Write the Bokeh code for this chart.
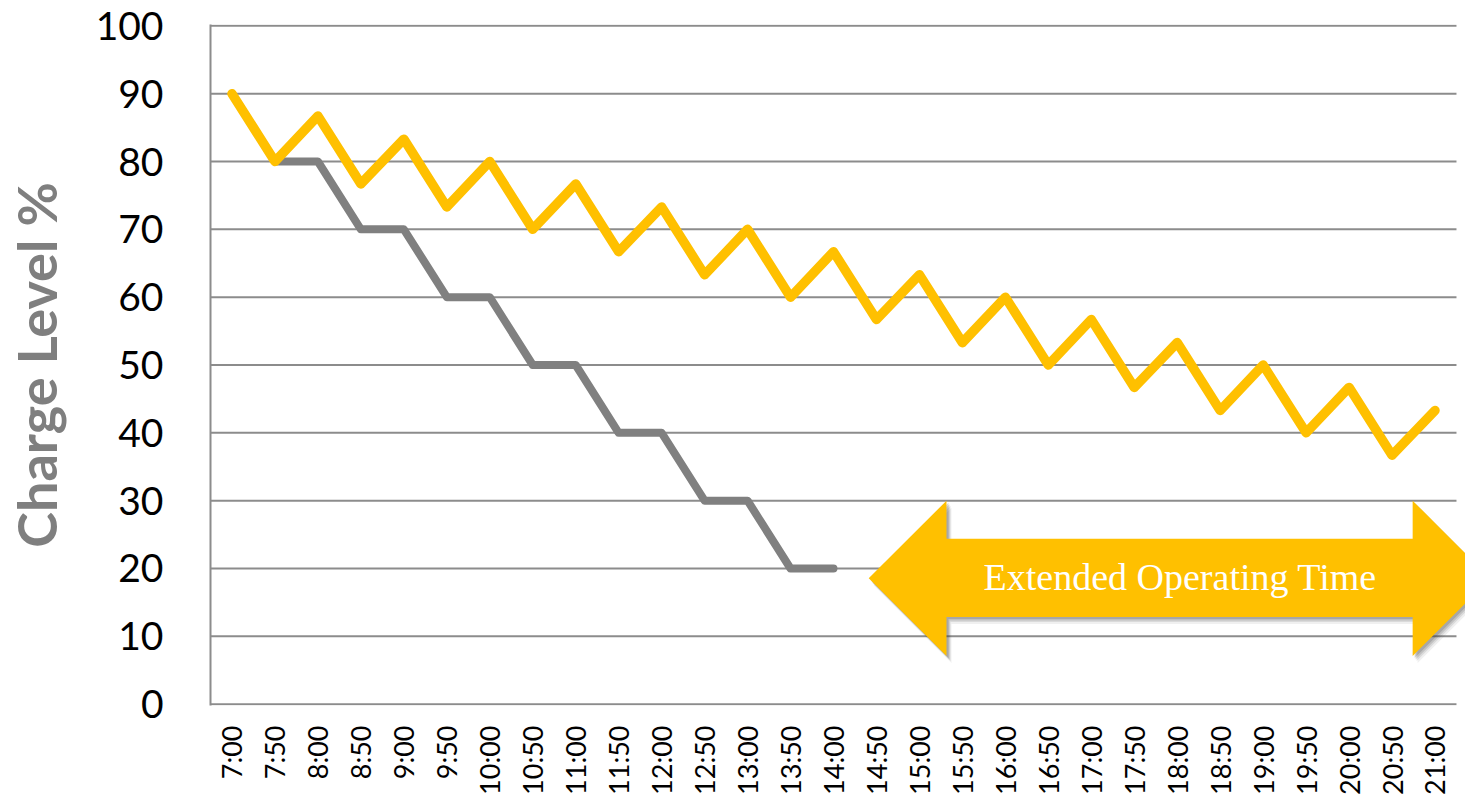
from bokeh.plotting import figure
from bokeh.models import Range1d, FixedTicker
from bokeh.embed import file_html
from bokeh.resources import INLINE
from bokeh.core.properties import value
import math

# ---- data ----
times = ["7:00", "7:50", "8:00", "8:50", "9:00", "9:50", "10:00", "10:50", "11:00", "11:50",
         "12:00", "12:50", "13:00", "13:50", "14:00", "14:50", "15:00", "15:50", "16:00", "16:50",
         "17:00", "17:50", "18:00", "18:50", "19:00", "19:50", "20:00", "20:50", "21:00"]
extended = [90, 80, 86.7, 76.7, 83.3, 73.3, 80, 70, 76.7, 66.7, 73.3, 63.3, 70, 60, 66.7,
            56.7, 63.3, 53.3, 60, 50, 56.7, 46.7, 53.3, 43.3, 50, 40, 46.7, 36.7, 43.3]
standard = [90, 80, 80, 70, 70, 60, 60, 50, 50, 40, 40, 30, 30, 20, 20]
y_ticks = [0, 10, 20, 30, 40, 50, 60, 70, 80, 90, 100]
arrow_label = "Extended Operating Time"
y_label = "Charge Level %"

n = len(times)
xpos = [i + 0.5 for i in range(n)]

p = figure(width=1465, height=797, output_backend="svg", toolbar_location=None,
           x_range=Range1d(0, 29.21), y_range=Range1d(-0.2, 100.2),
           min_border_left=207, min_border_right=0, min_border_top=24, min_border_bottom=90)
p.outline_line_color = None
p.xgrid.grid_line_color = None
p.ygrid.grid_line_color = None

GRID = "#8c8c8c"
# horizontal gridlines spanning category area only
p.segment(x0=[0] * len(y_ticks), x1=[n] * len(y_ticks), y0=y_ticks, y1=y_ticks,
          line_color=GRID, line_width=2)

# y axis
p.yaxis.ticker = FixedTicker(ticks=y_ticks)
p.yaxis.axis_line_color = GRID
p.yaxis.axis_line_width = 2
p.yaxis.major_tick_line_color = None
p.yaxis.minor_tick_line_color = None
p.yaxis.major_tick_out = 0
p.yaxis.major_tick_in = 0
p.yaxis.major_label_standoff = 47
p.yaxis.major_label_text_font = "Lato"
p.yaxis.major_label_text_font_size = "39px"
p.yaxis.major_label_text_color = "#000000"
p.yaxis.axis_label = y_label
p.yaxis.axis_label_text_font = "Lato"
p.yaxis.axis_label_text_font_style = "bold"
p.yaxis.axis_label_text_font_size = "54px"
p.yaxis.axis_label_text_color = "#7f7f7f"
p.yaxis.axis_label_standoff = 24

# x axis
p.xaxis.ticker = FixedTicker(ticks=xpos)
p.xaxis.major_label_overrides = {x: t for x, t in zip(xpos, times)}
p.xaxis.axis_line_color = None
p.xaxis.major_tick_line_color = None
p.xaxis.minor_tick_line_color = None
p.xaxis.major_tick_out = 0
p.xaxis.major_tick_in = 0
p.xaxis.major_label_orientation = math.pi / 2
p.xaxis.major_label_standoff = 20
p.xaxis.major_label_text_font = "Lato"
p.xaxis.major_label_text_font_size = "27px"
p.xaxis.major_label_text_color = "#000000"

# lines
p.line(xpos[:len(standard)], standard, line_color="#808080", line_width=8,
       line_join="round", line_cap="round")
p.line(xpos, extended, line_color="#FFC000", line_width=9.5,
       line_join="round", line_cap="round")

# double arrow annotation
tipL, baseL, baseR = 15.32, 17.13, 27.98
tipR = baseR + (baseL - tipL)
yc, head_top, head_bot, body_top, body_bot = 18.55, 30.0, 7.1, 24.4, 12.85
ax = [tipL, baseL, baseL, baseR, baseR, tipR, baseR, baseR, baseL, baseL]
ay = [yc, head_top, body_top, body_top, head_top, yc, head_bot, body_bot, body_bot, head_bot]
pxu = 43.07
pyu = 6.77
for dx, dy, a in [(5, 7, 0.08), (4, 5, 0.12), (3, 3.5, 0.16), (2, 2, 0.2)]:
    p.patch([v + dx / pxu for v in ax], [v - dy / pyu for v in ay],
            fill_color="#404040", fill_alpha=a, line_color=None)
p.patch(ax, ay, fill_color="#FFC000", line_color=None)
p.text(x=[22.57], y=[18.8], text=[arrow_label], text_color="#ffffff",
       text_font=value("Liberation Serif"), text_font_size="38px",
       text_align="center", text_baseline="alphabetic")

open("out.html", "w").write(file_html(p, INLINE))
